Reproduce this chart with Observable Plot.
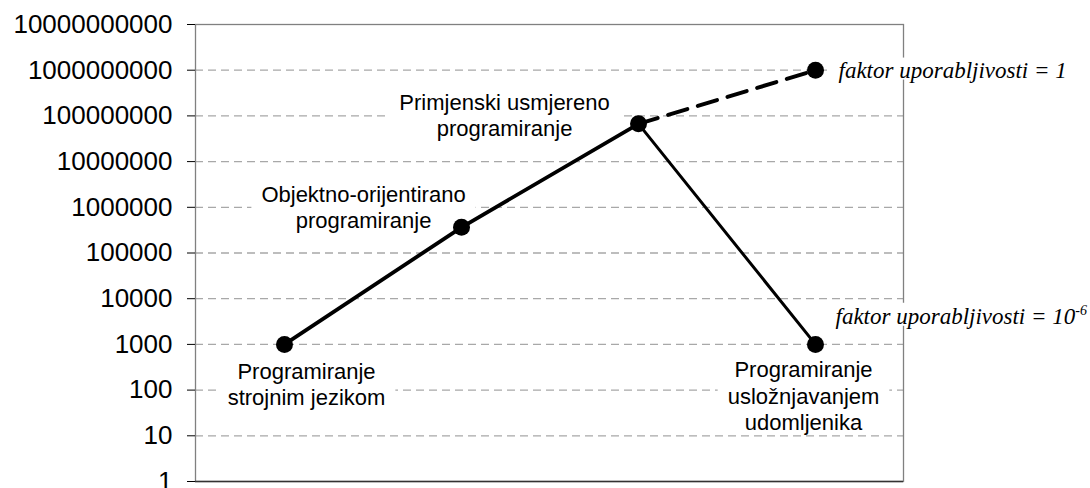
<!DOCTYPE html>
<html>
<head>
<meta charset="utf-8">
<script src="https://cdn.jsdelivr.net/npm/d3@7"></script>
<script src="https://cdn.jsdelivr.net/npm/@observablehq/plot@0.6"></script>
<style>
  html, body { margin: 0; padding: 0; background: white; }
</style>
</head>
<body>
<div id="chart"></div>
<script>
// ---- data ----
const categories = ["strojni", "objektni", "primjenski", "udomljenik"];
const values = [1000, 365000, 67000000, 1000];
const projectedValue = 1000000000;
const pointLabels = [
  "Programiranje\nstrojnim jezikom",
  "Objektno-orijentirano\nprogramiranje",
  "Primjenski usmjereno\nprogramiranje",
  "Programiranje\nusložnjavanjem\nudomljenika"
];
const factorTop = "faktor uporabljivosti = 1";
const factorBottom = "faktor uporabljivosti = 10";
const factorBottomSup = "-6";
const yTicks = [1, 10, 100, 1000, 10000, 100000, 1000000, 10000000, 100000000, 1000000000, 10000000000];
const gridValues = [10, 100, 1000, 10000, 100000, 1000000, 10000000, 100000000, 1000000000];

// ---- tables ----
const pts = categories.map((c, i) => ({cat: c, v: values[i], label: pointLabels[i]}));
const mainUp = pts.slice(0, 3);
const mainDown = pts.slice(2, 4);
const projected = [pts[2], {cat: categories[3], v: projectedValue}];

const labelOffsets = [[22, 39], [-98, -21], [-134, -9], [-12, 51]];

const labelMarks = pts.map((p, i) => Plot.text([p], {
  x: "cat", y: "v", text: "label",
  dx: labelOffsets[i][0], dy: labelOffsets[i][1],
  fontSize: 22, lineHeight: 1.2, fill: "black", textAnchor: "middle"
}));

const chart = Plot.plot({
  width: 1090,
  height: 488,
  marginTop: 24,
  marginBottom: 7,
  marginLeft: 195,
  marginRight: 187,
  style: {fontFamily: "'Liberation Sans', Arial, sans-serif", background: "white", color: "black"},
  x: {type: "point", domain: categories, padding: 0.5, axis: null},
  y: {type: "log", domain: [1, 1e10]},
  marks: [
    Plot.ruleY(gridValues, {stroke: "#a8a8a8", strokeDasharray: "8,5", strokeWidth: 1.3}),
    Plot.frame({stroke: "#808080", strokeWidth: 1.3}),
    Plot.ruleY([1], {stroke: "#333", strokeWidth: 1.5}),
    Plot.axisY({
      ticks: yTicks, tickFormat: d => String(d), tickSize: 8, tickPadding: 15,
      fontSize: 26, label: null, stroke: "black", line: true
    }),
    ...labelMarks,
    Plot.text([{cat: categories[3], v: projectedValue}], {
      x: "cat", y: "v", text: () => factorTop, dx: 23, dy: 0,
      textAnchor: "start", fontSize: 23, fontStyle: "italic",
      fontFamily: "'Liberation Serif', 'Times New Roman', serif", fill: "black"
    }),
    Plot.text([pts[3]], {
      x: "cat", y: "v", text: () => factorBottom, dx: 20, dy: -28,
      textAnchor: "start", fontSize: 23, fontStyle: "italic",
      fontFamily: "'Liberation Serif', 'Times New Roman', serif", fill: "black"
    }),
    Plot.line(projected, {x: "cat", y: "v", stroke: "black", strokeWidth: 4, strokeDasharray: "20,11"}),
    Plot.line(mainUp, {x: "cat", y: "v", stroke: "black", strokeWidth: 3.8}),
    Plot.line(mainDown, {x: "cat", y: "v", stroke: "black", strokeWidth: 3}),
    Plot.dot([...pts, {cat: categories[3], v: projectedValue}], {x: "cat", y: "v", r: 8.5, fill: "black"})
  ]
});

document.getElementById("chart").append(chart);

// superscript on the lower factor label
const ns = "http://www.w3.org/2000/svg";
chart.querySelectorAll('g[aria-label="text"] text').forEach(t => {
  if (t.textContent === factorBottom) {
    const s = document.createElementNS(ns, "tspan");
    s.setAttribute("dy", "-9");
    s.setAttribute("font-size", "14");
    s.textContent = factorBottomSup;
    t.appendChild(s);
  }
});

// white boxes behind the labels (hide gridlines like the text boxes in the original)
chart.querySelectorAll('g[aria-label="text"] > text').forEach(t => {
  const b = t.getBBox();
  const r = document.createElementNS(ns, "rect");
  const px = 10, pyTop = 0, pyBottom = -3;
  r.setAttribute("x", b.x - px);
  r.setAttribute("y", b.y - pyTop);
  r.setAttribute("width", b.width + 2 * px);
  r.setAttribute("height", b.height + pyTop + pyBottom);
  r.setAttribute("fill", "white");
  const tr = t.getAttribute("transform");
  if (tr) r.setAttribute("transform", tr);
  t.parentNode.insertBefore(r, t);
});
</script>
</body>
</html>
